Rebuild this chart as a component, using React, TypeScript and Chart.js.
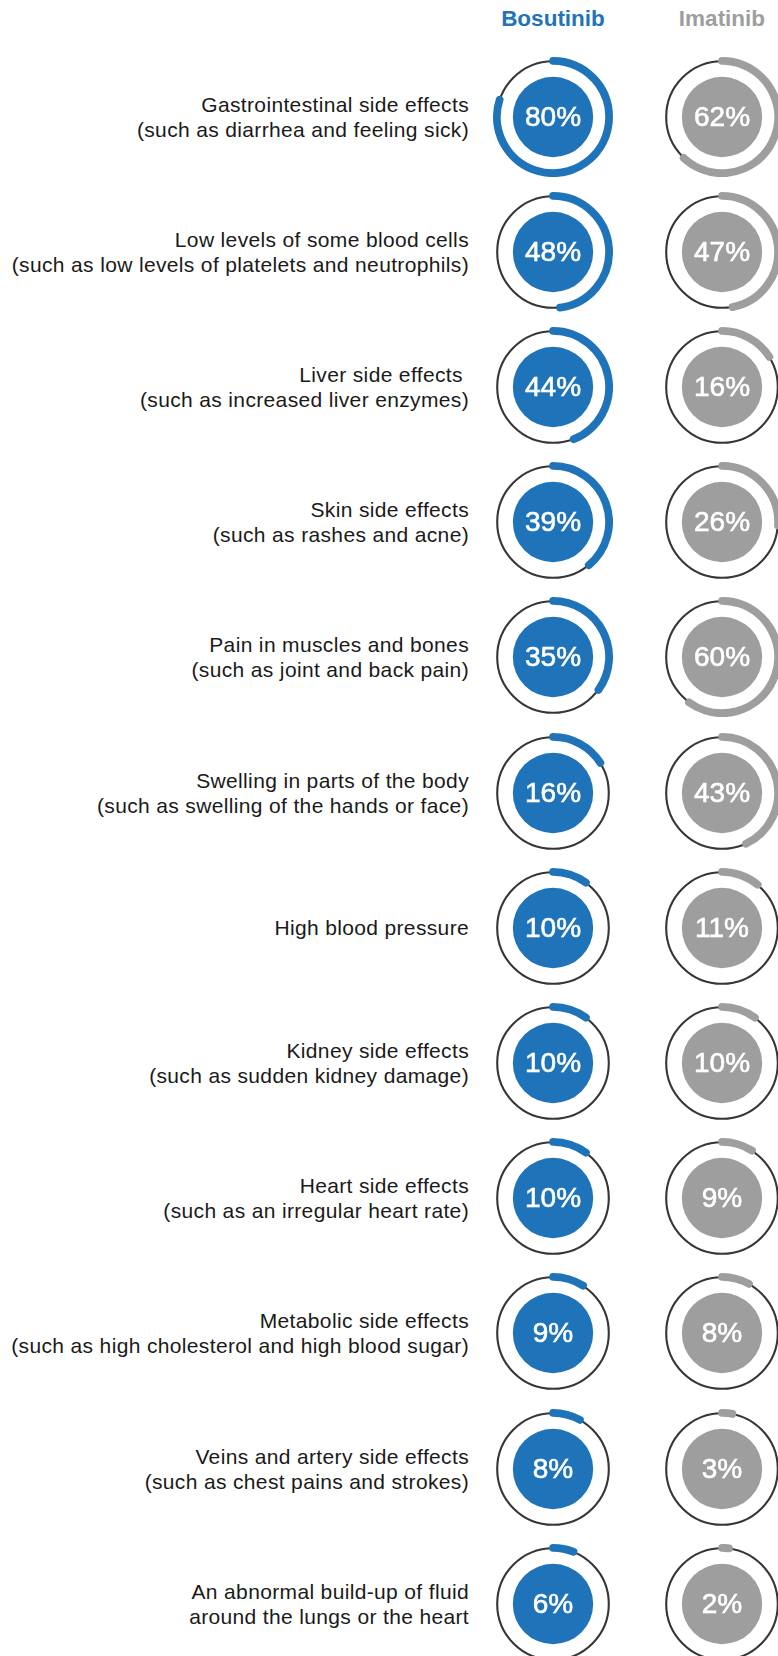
import React, { useEffect, useRef } from "react";
import { Chart, registerables } from "chart.js";

Chart.register(...registerables);

const seriesNames = ["Bosutinib", "Imatinib"];

const categoryTitles = [
  "Gastrointestinal side effects",
  "Low levels of some blood cells",
  "Liver side effects\u00a0",
  "Skin side effects",
  "Pain in muscles and bones",
  "Swelling in parts of the body",
  "High blood pressure",
  "Kidney side effects",
  "Heart side effects",
  "Metabolic side effects",
  "Veins and artery side effects",
  "An abnormal build-up of fluid",
];

const categoryDetails = [
  "(such as diarrhea and feeling sick)",
  "(such as low levels of platelets and neutrophils)",
  "(such as increased liver enzymes)",
  "(such as rashes and acne)",
  "(such as joint and back pain)",
  "(such as swelling of the hands or face)",
  "",
  "(such as sudden kidney damage)",
  "(such as an irregular heart rate)",
  "(such as high cholesterol and high blood sugar)",
  "(such as chest pains and strokes)",
  "around the lungs or the heart",
];

const bosutinibValues = [80, 48, 44, 39, 35, 16, 10, 10, 10, 9, 8, 6];
const imatinibValues = [62, 47, 16, 26, 60, 43, 11, 10, 9, 8, 3, 2];

const BLUE = "#1f73b9";
const GRAY = "#9e9e9e";
const TRACK = "#363636";
const CLEAR = "rgba(0,0,0,0)";

const FONT = '"Liberation Sans", Arial, Helvetica, sans-serif';

const ROW0 = 116.5;
const ROW_STEP = 135.2;
const COL_X = [553, 722];
const CANVAS = 120;
const LABEL_RIGHT = 469;

function Ring({ value, color, cx, cy }: { value: number; color: string; cx: number; cy: number }) {
  const ref = useRef<HTMLCanvasElement | null>(null);
  useEffect(() => {
    if (!ref.current) return;
    const chart = new Chart(ref.current, {
      type: "doughnut",
      data: {
        labels: ["value", "rest"],
        datasets: [
          {
            data: [value, 100 - value],
            backgroundColor: [color, CLEAR],
            borderColor: [color, CLEAR],
            borderWidth: [7.5, 0],
            hoverBorderWidth: [7.5, 0],
            borderJoinStyle: "round",
            weight: 0.3,
          } as any,
          {
            data: [100],
            backgroundColor: CLEAR,
            borderColor: TRACK,
            borderWidth: 1.8,
            weight: 0.3,
          } as any,
          {
            data: [1],
            backgroundColor: CLEAR,
            borderWidth: 0,
            weight: 15.4,
          } as any,
          {
            data: [1],
            backgroundColor: color,
            borderWidth: 0,
            weight: 40,
          } as any,
        ],
      },
      options: {
        responsive: false,
        animation: false,
        cutout: 0,
        hoverOffset: 0,
        events: [],
        layout: { padding: 0 },
        plugins: { legend: { display: false }, tooltip: { enabled: false }, title: { display: false } },
      } as any,
    });
    return () => chart.destroy();
  }, [value, color]);
  return (
    <>
      <canvas
        ref={ref}
        width={CANVAS}
        height={CANVAS}
        style={{ position: "absolute", left: cx - CANVAS / 2, top: cy - CANVAS / 2, width: CANVAS, height: CANVAS }}
      />
      <div
        style={{
          position: "absolute",
          left: cx - 50,
          top: cy - 20,
          width: 100,
          height: 40,
          display: "flex",
          alignItems: "center",
          justifyContent: "center",
          color: "#ffffff",
          fontSize: 28,
          lineHeight: "28px",
          fontFamily: FONT,
          WebkitTextStroke: "0.6px #ffffff",
        }}
      >
        {value}%
      </div>
    </>
  );
}

export default function App() {
  const colors = [BLUE, GRAY];
  const series = [bosutinibValues, imatinibValues];
  return (
    <div
      style={{
        position: "absolute",
        left: 0,
        top: 0,
        width: 778,
        height: 1656,
        overflow: "hidden",
        background: "#ffffff",
        fontFamily: FONT,
      }}
    >
      {seriesNames.map((name, s) => (
        <div
          key={name}
          style={{
            position: "absolute",
            left: COL_X[s] - 80,
            top: 8,
            width: 160,
            textAlign: "center",
            fontWeight: "bold",
            fontSize: 22.5,
            lineHeight: "22px",
            color: colors[s],
          }}
        >
          {name}
        </div>
      ))}
      {categoryTitles.map((title, i) => {
        const cy = ROW0 + ROW_STEP * i;
        return (
          <React.Fragment key={i}>
            <div
              style={{
                position: "absolute",
                right: 778 - LABEL_RIGHT,
                top: cy - 50,
                height: 100,
                width: 470,
                display: "flex",
                flexDirection: "column",
                justifyContent: "center",
                alignItems: "flex-end",
                textAlign: "right",
                fontSize: 21,
                letterSpacing: "0.35px",
                lineHeight: "25px",
                color: "#1a1a1a",
                whiteSpace: "pre",
              }}
            >
              <div>{title}</div>
              {categoryDetails[i] ? <div>{categoryDetails[i]}</div> : null}
            </div>
            {series.map((vals, s) => (
              <Ring key={s} value={vals[i]} color={colors[s]} cx={COL_X[s]} cy={cy} />
            ))}
          </React.Fragment>
        );
      })}
    </div>
  );
}
